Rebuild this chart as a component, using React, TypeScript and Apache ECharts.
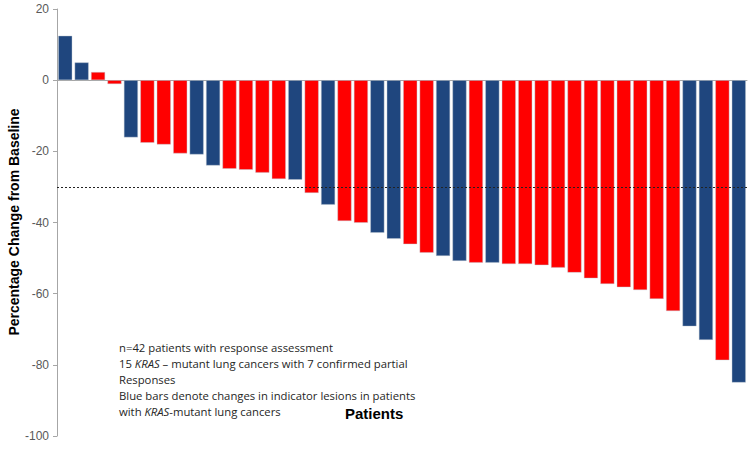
import React, { useEffect, useRef } from "react";
import * as echarts from "echarts";

const patients: string[] = Array.from({ length: 42 }, (_, i) => `P${i + 1}`);
const changeValues: number[] = [
  12.5, 5.0, 2.3, -1.1, -16.1, -17.6, -18.1, -20.6, -20.9, -24.0,
  -24.9, -25.2, -26.0, -27.8, -28.0, -31.7, -35.0, -39.6, -40.1, -42.9,
  -44.6, -46.1, -48.5, -49.4, -50.8, -51.3, -51.3, -51.7, -51.7, -52.0,
  -52.7, -54.1, -55.7, -57.3, -58.2, -59.0, -61.5, -64.9, -69.2, -73.0,
  -78.7, -85.0,
];
// 1 = KRAS-mutant lung cancer (blue), 0 = other (red)
const krasMutant: number[] = [
  1, 1, 0, 0, 1, 0, 0, 0, 1, 1,
  0, 0, 0, 0, 1, 0, 1, 0, 0, 1,
  1, 0, 0, 1, 1, 0, 1, 0, 0, 0,
  0, 0, 0, 0, 0, 0, 0, 0, 1, 1,
  0, 1,
];
const yTicks = { min: -100, max: 20, interval: 20 };
const responseThreshold = -30;
const yTitle = "Percentage Change from Baseline";
const xTitle = "Patients";
const noteLines: string[] = [
  "n=42 patients with response assessment",
  "15 {i|KRAS} – mutant lung cancers with 7 confirmed partial",
  "Responses",
  "Blue bars denote changes in indicator lesions in patients",
  "with {i|KRAS}-mutant lung cancers",
];

const BLUE = "#1F467E";
const RED = "#FF0000";

export default function App() {
  const ref = useRef<HTMLDivElement>(null);
  useEffect(() => {
    if (!ref.current) return;
    const chart = echarts.init(ref.current, undefined, { renderer: "svg" });
    chart.setOption({
      animation: false,
      backgroundColor: "#ffffff",
      grid: {
        left: 57,
        right: 3,
        top: 9,
        bottom: 22,
        containLabel: false,
        outerBoundsMode: "none",
      },
      xAxis: {
        type: "category",
        data: patients,
        axisLine: { onZero: true, lineStyle: { color: "#a6a6a6", width: 1 } },
        axisTick: { show: false },
        axisLabel: { show: false },
        splitLine: { show: false },
      },
      yAxis: {
        type: "value",
        min: yTicks.min,
        max: yTicks.max,
        interval: yTicks.interval,
        axisLine: { show: true, lineStyle: { color: "#a6a6a6" } },
        axisTick: { show: true, inside: false, length: 4, lineStyle: { color: "#a6a6a6" } },
        axisLabel: {
          fontFamily: "Liberation Sans, Arial",
          fontSize: 12,
          color: "#595959",
          margin: 8,
        },
        splitLine: { show: false },
      },
      series: [
        {
          type: "bar",
          barCategoryGap: "14%",
          data: changeValues.map((v, i) => ({
            value: v,
            itemStyle: { color: krasMutant[i] ? BLUE : RED },
          })),
          itemStyle: { borderColor: "rgba(190,200,210,0.7)", borderWidth: 0.6 },
          markLine: {
            symbol: "none",
            silent: true,
            label: { show: false },
            lineStyle: { color: "#222", type: [2, 2], width: 1 },
            data: [{ yAxis: responseThreshold }],
          },
        },
      ],
      graphic: [
        {
          type: "text",
          x: 14,
          y: 222,
          rotation: Math.PI / 2,
          style: {
            text: yTitle,
            fontFamily: "Liberation Sans, Arial",
            fontWeight: "bold",
            fontSize: 14,
            fill: "#000",
            align: "center",
            verticalAlign: "middle",
          },
        },
        {
          type: "text",
          left: 345,
          top: 406,
          style: {
            text: xTitle,
            fontFamily: "Liberation Sans, Arial",
            fontWeight: "bold",
            fontSize: 15,
            fill: "#000",
          },
        },
        {
          type: "text",
          left: 119,
          top: 339,
          style: {
            text: noteLines.join("\n"),
            fontFamily: "Open Sans, Noto Sans, sans-serif",
            fontSize: 11.3,
            lineHeight: 16,
            fill: "#262626",
            rich: {
              i: {
                fontStyle: "italic",
                fontFamily: "Open Sans, Noto Sans, sans-serif",
                fontSize: 11.3,
                lineHeight: 16,
                fill: "#262626",
              },
            },
          },
        },
      ],
    });
    return () => chart.dispose();
  }, []);
  return (
    <div
      ref={ref}
      style={{ position: "absolute", left: 0, top: 0, width: 750, height: 458 }}
    />
  );
}
